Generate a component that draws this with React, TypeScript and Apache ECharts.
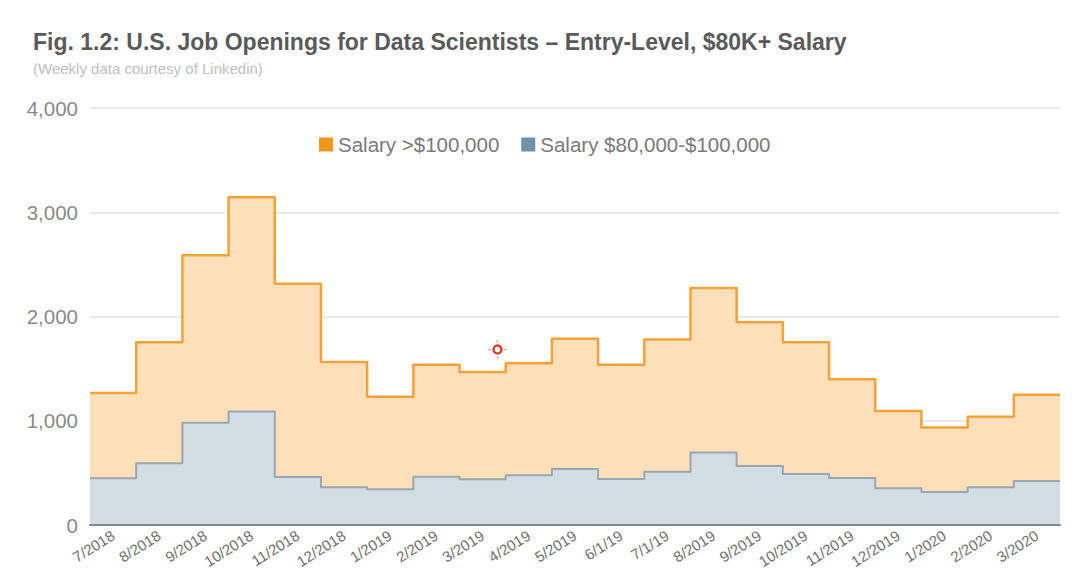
import React, { useEffect, useRef } from "react";
import * as echarts from "echarts";

const categories = [
  "7/2018", "8/2018", "9/2018", "10/2018", "11/2018", "12/2018", "1/2019",
  "2/2019", "3/2019", "4/2019", "5/2019", "6/1/19", "7/1/19", "8/2019",
  "9/2019", "10/2019", "11/2019", "12/2019", "1/2020", "2/2020", "3/2020",
];

// Weekly job openings, salary $80,000-$100,000 (bottom layer)
const salary80to100 = [
  448, 592, 981, 1089, 461, 362, 343, 462, 439, 478, 538, 442, 510, 695, 567,
  490, 452, 353, 317, 363, 423,
];

// Weekly job openings, salary >$100,000 (stacked on top)
const salaryOver100 = [
  817, 1161, 1606, 2055, 1852, 1201, 887, 1074, 1029, 1073, 1248, 1094, 1269,
  1579, 1378, 1263, 945, 740, 619, 675, 827,
];

const yTicks = [0, 1000, 2000, 3000, 4000];

const FONT = "'Liberation Sans', Arial, sans-serif";

// step points: each value spans one category, the last one is repeated to close the final step
function stepData(values: number[]) {
  const pts: number[][] = values.map((v, i) => [i, v]);
  pts.push([values.length, values[values.length - 1]]);
  return pts;
}

export default function App() {
  const ref = useRef<HTMLDivElement>(null);

  useEffect(() => {
    if (!ref.current) return;
    const chart = echarts.init(ref.current, null, { renderer: "svg" });
    const n = categories.length;
    // stacked top of the >$100,000 layer
    const stackedTop = salaryOver100.map((v, i) => v + salary80to100[i]);
    chart.setOption({
      animation: false,
      backgroundColor: "#ffffff",
      textStyle: { fontFamily: FONT },
      title: {
        text: "Fig. 1.2: U.S. Job Openings for Data Scientists – Entry-Level, $80K+ Salary",
        subtext: "(Weekly data courtesy of Linkedin)",
        left: 28,
        top: 25,
        itemGap: 8,
        textStyle: { fontFamily: FONT, fontSize: 23, fontWeight: "bold", color: "#5a5a5a" },
        subtextStyle: { fontFamily: FONT, fontSize: 15, color: "#c0c0c0" },
      },
      legend: {
        left: 314,
        top: 129,
        icon: "rect",
        itemWidth: 14,
        itemHeight: 14,
        itemGap: 22,
        itemTextGap: 7,
        textStyle: { fontFamily: FONT, fontSize: 20.5, color: "#7a7a7a" },
        data: [
          { name: "Salary >$100,000", itemStyle: { color: "#f7961e", borderWidth: 0 } },
          { name: "Salary $80,000-$100,000", itemStyle: { color: "#7191a8", borderWidth: 0 } },
        ],
      },
      grid: { left: 90, right: 20, top: 108, bottom: 62, containLabel: false },
      xAxis: [
        {
          type: "category",
          data: categories,
          boundaryGap: true,
          axisTick: { show: false },
          axisLine: { show: true, lineStyle: { color: "#7d8a92", width: 2 } },
          axisLabel: {
            rotate: 32,
            interval: 0,
            margin: 9,
            fontFamily: FONT,
            fontSize: 15,
            color: "#707070",
          },
          splitLine: { show: false },
          z: 10,
        },
        {
          type: "value",
          min: 0,
          max: n,
          show: false,
        },
      ],
      yAxis: {
        type: "value",
        min: yTicks[0],
        max: yTicks[yTicks.length - 1],
        interval: 1000,
        axisLine: { show: false },
        axisTick: { show: false },
        axisLabel: {
          margin: 12,
          fontFamily: FONT,
          fontSize: 20.5,
          color: "#8a8a8a",
          formatter: (v: number) => v.toLocaleString("en-US"),
        },
        splitLine: { lineStyle: { color: "#e2e2e2", width: 1.5 } },
      },
      series: [
        {
          name: "Salary >$100,000",
          type: "line",
          xAxisIndex: 1,
          step: "end",
          symbol: "none",
          color: "#f7961e",
          data: stepData(stackedTop),
          lineStyle: { color: "#f6a23a", width: 2.5, join: "round" },
          areaStyle: { color: "#fde0ba", opacity: 1 },
          z: 2,
        },
        {
          name: "Salary $80,000-$100,000",
          type: "line",
          xAxisIndex: 1,
          step: "end",
          symbol: "none",
          color: "#7191a8",
          data: stepData(salary80to100),
          lineStyle: { color: "#9aa7b0", width: 2, join: "round" },
          areaStyle: { color: "#d3dde4", opacity: 1 },
          z: 3,
        },
      ],
      graphic: [
        {
          type: "group",
          left: 486,
          top: 338,
          silent: true,
          z: 100,
          children: [
            { type: "circle", shape: { cx: 9, cy: 9, r: 4 }, style: { fill: "#ffffff", stroke: "#d2442a", lineWidth: 2.5 } },
            { type: "line", shape: { x1: 9, y1: 0, x2: 9, y2: 2 }, style: { stroke: "#e07a66", lineWidth: 1.2 } },
            { type: "line", shape: { x1: 9, y1: 16, x2: 9, y2: 18 }, style: { stroke: "#e07a66", lineWidth: 1.2 } },
            { type: "line", shape: { x1: 0, y1: 9, x2: 2, y2: 9 }, style: { stroke: "#e07a66", lineWidth: 1.2 } },
            { type: "line", shape: { x1: 16, y1: 9, x2: 18, y2: 9 }, style: { stroke: "#e07a66", lineWidth: 1.2 } },
          ],
        },
      ],
    });
    return () => chart.dispose();
  }, []);

  return (
    <div
      ref={ref}
      style={{ position: "fixed", left: 0, top: 0, width: 1080, height: 587 }}
    />
  );
}
